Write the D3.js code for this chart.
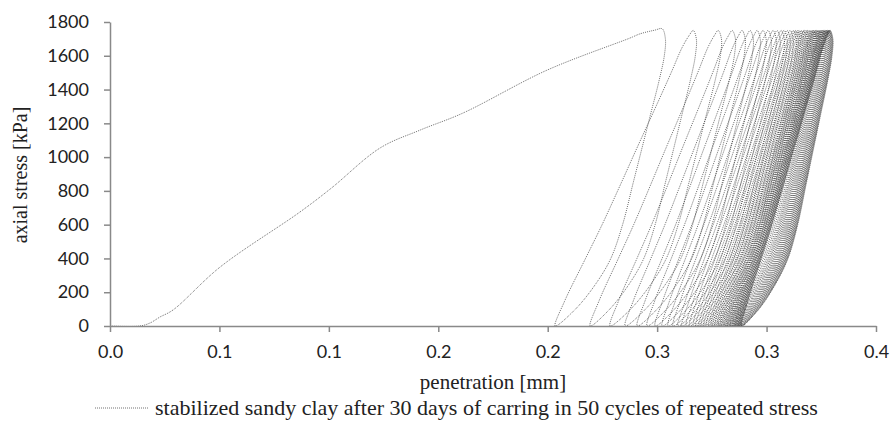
<!DOCTYPE html>
<html>
<head>
<meta charset="utf-8">
<script src="https://cdn.jsdelivr.net/npm/d3@7"></script>
<style>
  body { margin: 0; background: #fff; }
  .tick text { font-family: Lato, "Open Sans", sans-serif; font-size: 18px; fill: #222; }
  .title { font-family: "Liberation Serif", "Times New Roman", serif; font-size: 21px; fill: #222; }
</style>
</head>
<body>
<svg id="chart" width="895" height="436"></svg>
<script>
// first loading branch (penetration mm, stress kPa)
const initX = [0, 0.0137, 0.0183, 0.0228, 0.0288, 0.0503, 0.0868, 0.101, 0.1234, 0.1417, 0.1613, 0.1997, 0.2376, 0.2422, 0.249, 0.2523];
const initS = [0, 0, 18, 53, 95, 349, 675, 815, 1054, 1160, 1261, 1515, 1705, 1730, 1752, 1760];

// penetration at the top of each of the 50 cycles
const peaks = [0.2523, 0.2665, 0.2779, 0.2843, 0.2888, 0.2925, 0.2957, 0.2984, 0.3007, 0.3030,
  0.3048, 0.3067, 0.3080, 0.3094, 0.3108, 0.3122, 0.3131, 0.3140, 0.3149, 0.3158,
  0.3167, 0.3174, 0.3181, 0.3188, 0.3195, 0.3202, 0.3208, 0.3213, 0.3217, 0.3222,
  0.3227, 0.3231, 0.3236, 0.3240, 0.3245, 0.3249, 0.3253, 0.3257, 0.3260, 0.3264,
  0.3268, 0.3271, 0.3274, 0.3277, 0.3280, 0.3282, 0.3285, 0.3287, 0.3289, 0.3291];
// penetration after each unloading (stress back to 0)
const bottoms = [0.2034, 0.2194, 0.2285, 0.2354, 0.2409, 0.2454, 0.2491, 0.2523, 0.2550, 0.2573,
  0.2596, 0.2614, 0.2633, 0.2649, 0.2665, 0.2678, 0.2692, 0.2703, 0.2715, 0.2726,
  0.2738, 0.2747, 0.2756, 0.2765, 0.2774, 0.2782, 0.2790, 0.2797, 0.2804, 0.2811,
  0.2817, 0.2823, 0.2828, 0.2834, 0.2838, 0.2843, 0.2847, 0.2852, 0.2856, 0.2859,
  0.2863, 0.2866, 0.2870, 0.2873, 0.2876, 0.2879, 0.2882, 0.2885, 0.2887, 0.2889];

// loop shape: stress and position between bottom (0) and top (1)
const reloadS = [0, 150, 400, 600, 850, 1050, 1300, 1500, 1650, 1720, 1750];
const reloadF = [0, 0.07, 0.22, 0.34, 0.48, 0.59, 0.73, 0.84, 0.92, 0.97, 1];
const unloadS = [1750, 1700, 1600, 1450, 1250, 1050, 850, 600, 400, 250, 100, 0];
const unloadF = [1, 1.03, 1.02, 0.97, 0.89, 0.81, 0.73, 0.63, 0.52, 0.38, 0.19, 0];

const xTicks = [0, 0.05, 0.1, 0.15, 0.2, 0.25, 0.3, 0.35];
const yTicks = [0, 200, 400, 600, 800, 1000, 1200, 1400, 1600, 1800];

const svg = d3.select('#chart');
const x = d3.scaleLinear().domain([0, 0.35]).range([110, 876]);
const y = d3.scaleLinear().domain([0, 1800]).range([326, 22]);

// Excel-style one decimal (0.05 -> 0.1)
const fmt = v => (Math.round(v * 10 + 1e-9) / 10).toFixed(1);

// build the whole test record as one sequence of points
let pts = initX.map((v, i) => [v, initS[i]]);
for (let k = 0; k < peaks.length; k++) {
    if (k > 0) {
        const b = bottoms[k - 1], p = peaks[k];
        reloadS.forEach((s, i) => {
            if (i > 0) pts.push([b + reloadF[i] * (p - b), s]);
        });
    }
    const p = peaks[k], b = bottoms[k];
    unloadS.forEach((s, i) => {
        if (i > 0) pts.push([b + unloadF[i] * (p - b), s]);
    });
}

const line = d3.line()
    .x(d => x(d[0]))
    .y(d => y(d[1]))
    .curve(d3.curveCatmullRom.alpha(0.5));

svg.append('path')
    .attr('d', line(pts))
    .attr('fill', 'none')
    .attr('stroke', '#3a3a3a')
    .attr('stroke-width', 0.8)
    .attr('stroke-dasharray', '0.9 1.1');

// axes
const xAxis = svg.append('g')
    .attr('transform', 'translate(0,326)')
    .call(d3.axisBottom(x).tickValues(xTicks).tickFormat(fmt).tickSize(6).tickSizeOuter(0));
const yAxis = svg.append('g')
    .attr('transform', 'translate(110,0)')
    .call(d3.axisLeft(y).tickValues(yTicks).tickFormat(d3.format('d')).tickSize(6).tickSizeOuter(0));

[xAxis, yAxis].forEach(g => {
    g.select('.domain').attr('stroke', '#898989').attr('stroke-width', 1.5);
    g.selectAll('.tick line').attr('stroke', '#898989').attr('stroke-width', 1.5);
});
xAxis.selectAll('.tick text').attr('y', 15).attr('dy', '0.95em');
yAxis.selectAll('.tick text').attr('x', -21);

// titles
svg.append('text')
    .attr('class', 'title')
    .attr('x', 493).attr('y', 389)
    .attr('text-anchor', 'middle')
    .text('penetration [mm]');

svg.append('text')
    .attr('class', 'title')
    .attr('transform', 'translate(27,175) rotate(-90)')
    .attr('text-anchor', 'middle')
    .style('font-size', '20px')
    .text('axial stress [kPa]');

// legend
svg.append('line')
    .attr('x1', 95).attr('x2', 148)
    .attr('y1', 408).attr('y2', 408)
    .attr('stroke', '#3a3a3a')
    .attr('stroke-width', 0.8)
    .attr('stroke-dasharray', '0.9 1.1');
svg.append('text')
    .attr('class', 'title')
    .attr('x', 155).attr('y', 415)
    .style('font-size', '22px')
    .text('stabilized sandy clay after 30 days of carring in 50 cycles of repeated stress');
</script>
</body>
</html>
